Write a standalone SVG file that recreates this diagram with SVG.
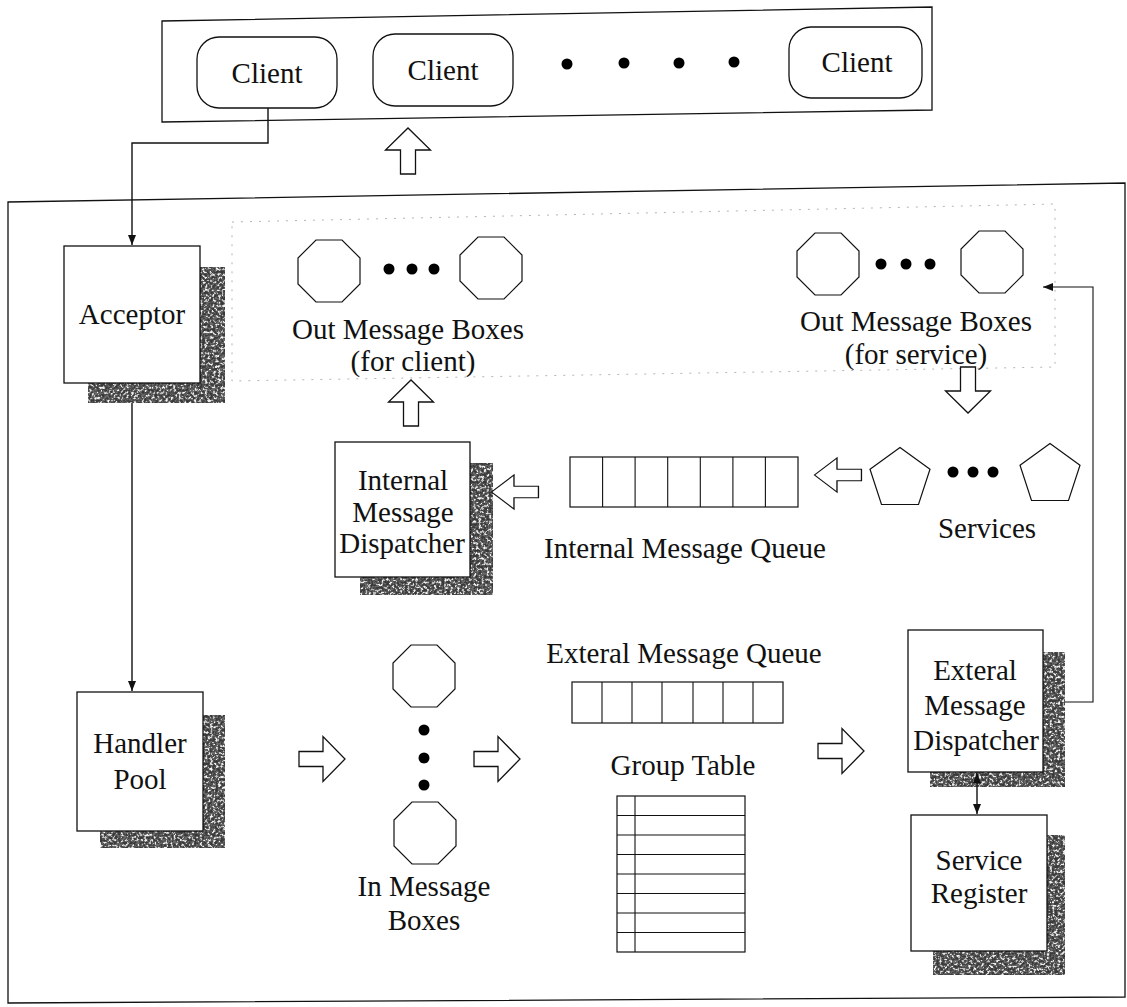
<svg xmlns="http://www.w3.org/2000/svg" xmlns:xlink="http://www.w3.org/1999/xlink" width="1127" height="1007" viewBox="0 0 1127 1007">
  <style>
    .frame { fill: none; stroke: #111; stroke-width: 1.3; }
    .box { fill: #fff; stroke: #111; stroke-width: 1.3; }
    .shape { fill: #fff; stroke: #111; stroke-width: 1.2; }
    .hollow { fill: #fff; stroke: #111; stroke-width: 1.3; stroke-linejoin: miter; }
    .line { fill: none; stroke: #111; stroke-width: 1.4; }
    .cell { fill: none; stroke: #111; stroke-width: 1.1; }
    .dotted { fill: none; stroke: #b5b5b5; stroke-width: 1; stroke-dasharray: 2 7; }
    .shadow { fill: #222; filter: url(#grain); }
    .dot { fill: #000; }
    text { font-family: "Liberation Serif", "Times New Roman", serif; font-size: 29px; fill: #111; text-anchor: middle; }
  </style>
  <defs>
    <!-- speckled dark fill used for the drop shadows -->
    <filter id="grain" x="0" y="0" width="100%" height="100%">
      <feTurbulence type="fractalNoise" baseFrequency="0.38" numOctaves="3" seed="11" result="noise"/>
      <feColorMatrix in="noise" type="matrix" values="1 0 0 0 0  1 0 0 0 0  1 0 0 0 0  0 0 0 0 1"/>
      <feComponentTransfer>
        <feFuncR type="discrete" tableValues="0.04 0.04 0.04 0.05 0.08 0.14 0.5 0.85 0.95 0.95"/>
        <feFuncG type="discrete" tableValues="0.04 0.04 0.04 0.05 0.08 0.14 0.5 0.85 0.95 0.95"/>
        <feFuncB type="discrete" tableValues="0.04 0.04 0.04 0.05 0.08 0.14 0.5 0.85 0.95 0.95"/>
      </feComponentTransfer>
      <feComposite in2="SourceAlpha" operator="in"/>
    </filter>
    <polygon id="oct" class="shape" points="-13,-31 13,-31 31,-13 31,13 13,31 -13,31 -31,13 -31,-13"/>
    <polygon id="pent" class="shape" points="0,-31.5 30,-9.7 18.5,25.5 -18.5,25.5 -30,-9.7"/>
    <!-- hollow block arrow pointing right, centred on 0,0 -->
    <path id="blk" class="hollow" d="M-23,-7.5 H1 V-22.5 L23,0 L1,22.5 V7.5 H-23 Z"/>
    <marker id="tip" viewBox="0 0 10 10" refX="10" refY="5" markerWidth="11" markerHeight="10" orient="auto-start-reverse" markerUnits="userSpaceOnUse">
      <path d="M0,1 L10,5 L0,9 Z" fill="#111"/>
    </marker>
  </defs>

  <!-- client tier -->
  <g id="client-tier">
    <polygon class="frame" points="162,21 932,7 932,110 162,122"/>
  </g>
  <g id="client-1">
    <rect class="box" x="197" y="37" width="140" height="71" rx="22"/>
    <text x="267" y="83">Client</text>
  </g>
  <g id="client-2">
    <rect class="box" x="373" y="34" width="140" height="72" rx="22"/>
    <text x="443" y="80">Client</text>
  </g>
  <g id="client-ellipsis">
    <circle class="dot" cx="567" cy="64" r="5.5"/>
    <circle class="dot" cx="624" cy="63" r="5.5"/>
    <circle class="dot" cx="679" cy="63" r="5.5"/>
    <circle class="dot" cx="734" cy="62" r="5.5"/>
  </g>
  <g id="client-3">
    <rect class="box" x="789" y="27" width="133" height="71" rx="22"/>
    <text x="857" y="72">Client</text>
  </g>

  <!-- server frame -->
  <g id="server">
    <polygon class="frame" points="8,202 1125,183 1125,997 8,1003"/>
    <polygon class="dotted" points="232,222 1055,204 1055,367 232,381"/>
  </g>

  <g id="acceptor">
    <rect class="shadow" x="88" y="267" width="137" height="136"/>
    <rect class="box" x="64" y="246" width="136" height="137"/>
    <text x="132" y="324">Acceptor</text>
  </g>

  <g id="handler-pool">
    <rect class="shadow" x="100" y="715" width="125" height="133"/>
    <rect class="box" x="77" y="692" width="126" height="139"/>
    <text x="140" y="753">Handler</text>
    <text x="140" y="789">Pool</text>
  </g>

  <g id="out-boxes-client">
    <use xlink:href="#oct" x="329" y="271"/>
    <circle class="dot" cx="389" cy="269" r="5.5"/>
    <circle class="dot" cx="412" cy="269" r="5.5"/>
    <circle class="dot" cx="434" cy="269" r="5.5"/>
    <use xlink:href="#oct" x="491" y="268"/>
    <text x="408" y="339">Out Message Boxes</text>
    <text x="413" y="371">(for client)</text>
  </g>

  <g id="out-boxes-service">
    <use xlink:href="#oct" x="828" y="264"/>
    <circle class="dot" cx="881" cy="264" r="5.5"/>
    <circle class="dot" cx="906" cy="264" r="5.5"/>
    <circle class="dot" cx="930" cy="264" r="5.5"/>
    <use xlink:href="#oct" x="992" y="262"/>
    <text x="916" y="331">Out Message Boxes</text>
    <text x="916" y="364">(for service)</text>
  </g>

  <g id="internal-dispatcher">
    <rect class="shadow" x="360" y="463" width="133" height="132"/>
    <rect class="box" x="335" y="442" width="135" height="135"/>
    <text x="403" y="490">Internal</text>
    <text x="403" y="522">Message</text>
    <text x="402" y="553">Dispatcher</text>
  </g>

  <g id="internal-queue">
    <rect class="shape" x="570" y="457" width="228" height="50"/>
    <path class="cell" d="M602.6,457 V507 M635.1,457 V507 M667.7,457 V507 M700.3,457 V507 M732.9,457 V507 M765.4,457 V507"/>
    <text x="685" y="558">Internal Message Queue</text>
  </g>

  <g id="services">
    <use xlink:href="#pent" x="900" y="479"/>
    <circle class="dot" cx="953" cy="472" r="5.5"/>
    <circle class="dot" cx="973" cy="472" r="5.5"/>
    <circle class="dot" cx="993" cy="472" r="5.5"/>
    <use xlink:href="#pent" x="1050" y="475"/>
    <text x="987" y="538">Services</text>
  </g>

  <g id="in-boxes">
    <use xlink:href="#oct" x="424" y="676"/>
    <circle class="dot" cx="424" cy="730" r="5.5"/>
    <circle class="dot" cx="424" cy="758" r="5.5"/>
    <circle class="dot" cx="424" cy="785" r="5.5"/>
    <use xlink:href="#oct" x="425" y="833"/>
    <text x="424" y="896">In Message</text>
    <text x="424" y="930">Boxes</text>
  </g>

  <g id="external-queue">
    <text x="684" y="663">Exteral Message Queue</text>
    <rect class="shape" x="572" y="682" width="211" height="41"/>
    <path class="cell" d="M602,682 V723 M632,682 V723 M662,682 V723 M693,682 V723 M723,682 V723 M753,682 V723"/>
  </g>

  <g id="group-table">
    <text x="683" y="775">Group Table</text>
    <rect class="shape" x="617" y="796" width="128" height="156"/>
    <path class="cell" d="M635,796 V952 M617,815.5 H745 M617,835 H745 M617,854.5 H745 M617,874 H745 M617,893.5 H745 M617,913 H745 M617,932.5 H745"/>
  </g>

  <g id="external-dispatcher">
    <rect class="shadow" x="930" y="652" width="135" height="135"/>
    <rect class="box" x="908" y="630" width="135" height="142"/>
    <text x="975" y="680">Exteral</text>
    <text x="975" y="715">Message</text>
    <text x="976" y="750">Dispatcher</text>
  </g>

  <g id="service-register">
    <rect class="shadow" x="933" y="835" width="132" height="140"/>
    <rect class="box" x="911" y="815" width="136" height="136"/>
    <text x="979" y="870">Service</text>
    <text x="979" y="903">Register</text>
  </g>

  <!-- connectors -->
  <g id="connectors">
    <polyline class="line" points="268,108 268,143 132,143 132,245" marker-end="url(#tip)"/>
    <line class="line" x1="132" y1="403" x2="132" y2="691" marker-end="url(#tip)"/>
    <polyline class="line" points="1065,702 1093,702 1093,287 1043,287" marker-end="url(#tip)" style="stroke-width:1.1"/>
    <line class="line" x1="977" y1="773" x2="977" y2="814" marker-start="url(#tip)" marker-end="url(#tip)"/>

    <use xlink:href="#blk" transform="translate(408,151) rotate(-90)"/>
    <use xlink:href="#blk" transform="translate(411,403) rotate(-90)"/>
    <use xlink:href="#blk" transform="translate(968,390) rotate(90)"/>
    <use xlink:href="#blk" transform="translate(838,475) rotate(180) scale(1.02,0.76)"/>
    <use xlink:href="#blk" transform="translate(515,492) rotate(180) scale(1.02,0.76)"/>
    <use xlink:href="#blk" transform="translate(322,759)"/>
    <use xlink:href="#blk" transform="translate(497,759)"/>
    <use xlink:href="#blk" transform="translate(841,751)"/>
  </g>
</svg>
